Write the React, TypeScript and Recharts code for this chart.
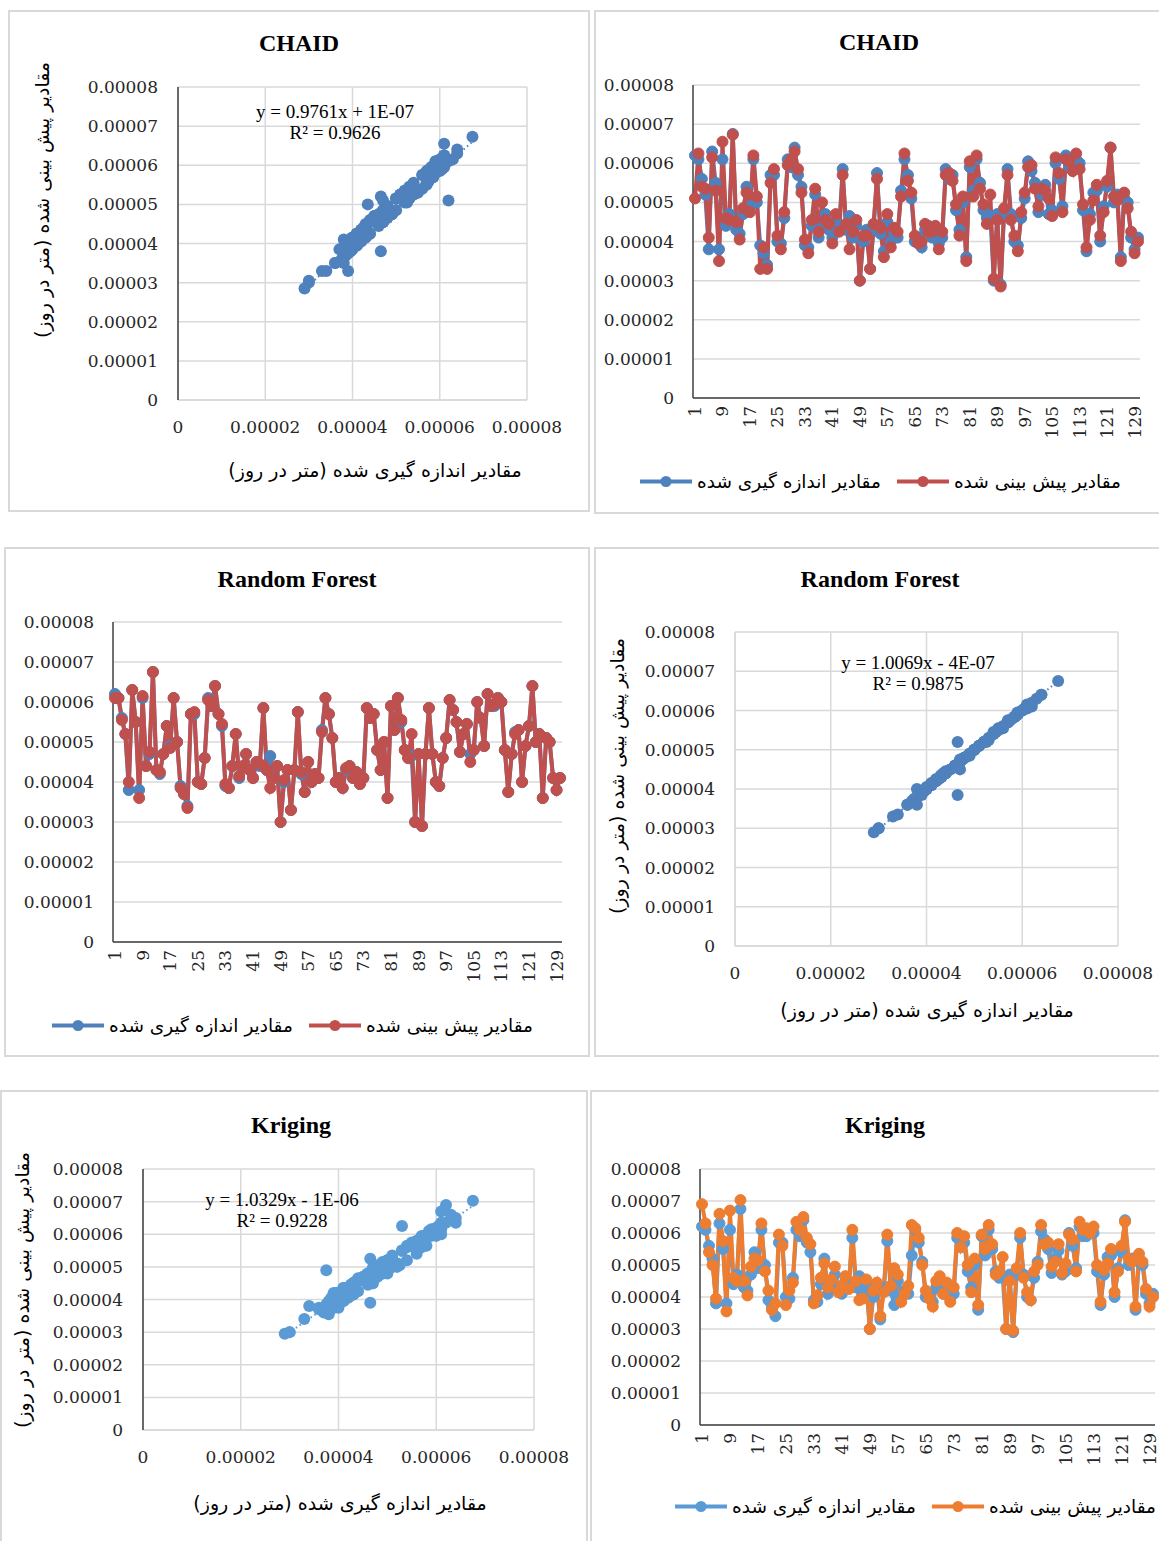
import React from "react";
import { CartesianGrid, Line, LineChart, Scatter, ScatterChart, XAxis, YAxis } from "recharts";

// Rates are kept in units of 1e-6 m/day (10 here = 0.00001 on the axes).
const days = Array.from({ length: 130 }, (_, i) => i + 1);

const measured = [
  62, 61, 56, 52, 38, 63, 55, 38, 61, 44,
  47, 67.5, 43, 42, 47, 54, 49, 61, 50, 39,
  37, 34, 57, 57, 40, 39.5, 46, 61, 59, 64,
  57, 54, 39, 38.5, 44, 52, 41, 43.5, 47, 43,
  41, 45, 44, 58.5, 43, 46.5, 41, 44, 30, 40,
  43, 33, 43, 57.5, 42, 37.5, 45, 40, 42, 41,
  53, 61, 57, 51, 40, 41, 38.5, 43, 44, 41,
  42.5, 39.5, 41, 58.5, 56, 57, 48, 43, 50, 36,
  59, 53, 61, 55, 48, 46, 46.5, 30, 47, 29,
  47, 58.5, 47, 40, 39, 46, 51, 60.5, 58, 55,
  47.5, 52, 54.5, 47, 48, 60, 56, 49, 62, 59,
  59, 61, 60, 48, 37.5, 47, 52.5, 53, 40, 49,
  54, 64, 50, 52, 36, 51, 50, 41, 38, 41,
];

const chaid = [
  51, 62.5, 54, 53.5, 41, 61.5, 53, 35, 65.5, 46,
  45.5, 67.3, 45, 40.5, 48.5, 52.5, 47.5, 62, 51.5, 33,
  38.5, 33, 55, 58.5, 41.5, 38, 47.5, 59.5, 61, 63,
  58.5, 52.5, 40.5, 37, 45.5, 53.5, 42.5, 50, 45.5, 44.5,
  39.5, 47, 42.5, 57, 44.5, 38, 42.5, 45.5, 30, 41.5,
  41.5, 33, 44.5, 56, 43.5, 36, 47, 38.5, 43.5, 42.5,
  51.5, 62.5, 55.5, 52.5, 41.5, 39.5, 40, 44.5, 42.5, 42.5,
  44, 38, 42.5, 57, 57.5, 55.5, 49.5, 41.5, 51.5, 35,
  60.5, 51.5, 62, 53.5, 49.5, 44.5, 52, 30.5, 45.5, 28.5,
  48.5, 57, 45.5, 41.5, 37.5, 47.5, 52.5, 59, 59.5, 53.5,
  49, 53.5, 53, 51, 46.5, 61.5, 57.5, 47.5, 61, 60.5,
  58, 62.5, 58.5, 49.5, 38.5, 45.5, 50.5, 54.5, 41.5, 47.5,
  55.5, 64, 51.5, 50.5, 35, 52.5, 48.5, 42.5, 37, 40,
];

const randomForest = [
  61, 61, 55.5, 52, 40, 63, 55, 36, 61.5, 44,
  47.5, 67.5, 43, 42.5, 47, 54, 48.5, 61, 50, 38.5,
  37, 33.5, 57, 57.5, 40, 39.5, 46, 60.5, 59, 64,
  57, 54.5, 39.5, 38.5, 44, 52, 41.5, 44, 47, 43,
  41, 45, 44.5, 58.5, 43, 38.5, 41, 44, 30, 40.5,
  43, 33, 43, 57.5, 42.5, 37.5, 45, 40, 42, 41,
  52.5, 61, 57, 51, 40, 41, 38.5, 43.5, 44, 41,
  42.5, 39.5, 41, 58.5, 56, 57, 48, 43, 50, 36,
  59, 53, 61, 55.5, 48, 46, 52, 30, 47, 29,
  47, 58.5, 47, 40, 39, 46, 51, 60.5, 58, 55,
  47.5, 52, 54.5, 45, 48, 60, 56, 49, 62, 59,
  59.5, 61, 60, 48, 37.5, 47, 52, 53, 40, 49,
  54, 64, 50, 52, 36, 51, 50, 41, 38, 41,
];

const kriging = [
  69, 63, 54, 50, 39.5, 66, 57.5, 35.5, 67, 46,
  45, 70.3, 45, 40.5, 49.5, 52, 51.5, 63, 48, 42,
  36, 38, 59.5, 56, 37.5, 42, 44.5, 63.5, 61, 65,
  58.5, 56.5, 38, 40.5, 46, 50.5, 43, 45.5, 49.5, 41.5,
  43.5, 46.5, 42.5, 61, 45, 39, 39.5, 45.5, 30, 42,
  44.5, 34, 41.5, 59.5, 43.5, 49, 47, 38.5, 41, 43.5,
  62.5, 61.5, 58.5, 50, 42, 39.5, 37, 45, 46.5, 41,
  44.5, 38.5, 43, 60, 55.5, 59, 50, 41.5, 52, 37.5,
  59.5, 55, 62.5, 56.5, 47, 48, 52.5, 30, 45, 29.5,
  49, 60, 46, 41.5, 39, 48, 50, 62.5, 56.5, 57,
  49.5, 51, 56.5, 47.5, 50.5, 59.5, 58, 48, 63.5, 61,
  61.5, 60, 62, 50, 38.5, 48.5, 50.5, 55, 41.5, 48,
  56, 63.5, 52, 51, 37, 53.5, 51, 42.5, 37, 40,
];

const valueTicks = [0, 10, 20, 30, 40, 50, 60, 70, 80];
const scatterXTicks = [0, 20, 40, 60, 80];

// Trendline fits printed on the scatter panels
const chaidFit = { slope: 0.9761, intercept: 0.1, eq: "y = 0.9761x + 1E-07", r2: "R² = 0.9626" };
const rfFit = { slope: 1.0069, intercept: -0.4, eq: "y = 1.0069x - 4E-07", r2: "R² = 0.9875" };
const krigingFit = { slope: 1.0329, intercept: -1, eq: "y = 1.0329x - 1E-06", r2: "R² = 0.9228" };

const measuredLabel = "مقادیر اندازه گیری شده";
const predictedLabel = "مقادیر پیش بینی شده";
const yTitle = "مقادیر پیش بینی شده (متر در روز)";
const xTitle = "مقادیر اندازه گیری شده (متر در روز)";

const TICK_FONT = "'DejaVu Serif', serif";
const SERIF = "'Liberation Serif', 'Times New Roman', serif";
const FA_FONT = "'DejaVu Sans', sans-serif";
const GRID = "#d9d9d9";
const AXIS = "#404040";
const INK = "#262626";

const fmt = (v: number) => (v === 0 ? "0" : (v / 1e6).toFixed(5));

type Box = { left: number; top: number; width: number; height: number };

/* ── tick renderers ─────────────────────────────────────────── */
function YTick(p: any) {
  return (
    <text x={p.x} y={p.y} dy={6} textAnchor="end" fontFamily={TICK_FONT} fontSize={17} fill={INK}>
      {fmt(p.payload.value)}
    </text>
  );
}

function XTickFlat(p: any) {
  return (
    <text x={p.x} y={p.y} dy={12} textAnchor="middle" fontFamily={TICK_FONT} fontSize={17} fill={INK}>
      {fmt(p.payload.value)}
    </text>
  );
}

function XTickRot(p: any) {
  return (
    <text
      x={p.x}
      y={p.y}
      dy={6}
      textAnchor="end"
      transform={`rotate(-90 ${p.x} ${p.y})`}
      fontFamily={TICK_FONT}
      fontSize={17}
      fill={INK}
    >
      {p.payload.value}
    </text>
  );
}

/* ── bits of chrome ─────────────────────────────────────────── */
function Panel({ left, top, width, height }: Box) {
  return (
    <div
      style={{ position: "absolute", left, top, width, height, border: `2px solid ${GRID}`, boxSizing: "border-box" }}
    />
  );
}

function Title({ x, y, text }: { x: number; y: number; text: string }) {
  return (
    <div
      style={{
        position: "absolute",
        left: x,
        top: y,
        transform: "translate(-50%, -50%)",
        fontFamily: SERIF,
        fontWeight: 700,
        fontSize: 24,
        whiteSpace: "nowrap",
        color: "#000",
      }}
    >
      {text}
    </div>
  );
}

function FaText({ x, y, text, rotate = false }: { x: number; y: number; text: string; rotate?: boolean }) {
  return (
    <div
      dir="rtl"
      style={{
        position: "absolute",
        left: x,
        top: y,
        transform: `translate(-50%, -50%)${rotate ? " rotate(-90deg)" : ""}`,
        fontFamily: FA_FONT,
        fontSize: 19,
        whiteSpace: "nowrap",
        color: "#000",
      }}
    >
      {text}
    </div>
  );
}

function Equation({ x, y, fit }: { x: number; y: number; fit: typeof chaidFit }) {
  const s: React.CSSProperties = {
    position: "absolute",
    left: x,
    transform: "translate(-50%, -50%)",
    fontFamily: SERIF,
    fontSize: 19,
    whiteSpace: "nowrap",
    color: "#000",
  };
  return (
    <>
      <div style={{ ...s, top: y }}>{fit.eq}</div>
      <div style={{ ...s, top: y + 21 }}>{fit.r2}</div>
    </>
  );
}

function LegendIcon({ color }: { color: string }) {
  return (
    <svg width={52} height={14} style={{ display: "block" }}>
      <line x1={0} y1={7} x2={52} y2={7} stroke={color} strokeWidth={4} />
      <circle cx={26} cy={7} r={5.5} fill={color} />
    </svg>
  );
}

function Legend({ x, y, measColor, predColor }: { x: number; y: number; measColor: string; predColor: string }) {
  const label: React.CSSProperties = { fontFamily: FA_FONT, fontSize: 18.5, marginLeft: 5, color: "#000" };
  return (
    <div
      style={{
        position: "absolute",
        left: x,
        top: y,
        transform: "translateY(-50%)",
        display: "flex",
        alignItems: "center",
        whiteSpace: "nowrap",
      }}
    >
      <LegendIcon color={measColor} />
      <span dir="rtl" style={label}>{measuredLabel}</span>
      <span style={{ width: 16 }} />
      <LegendIcon color={predColor} />
      <span dir="rtl" style={label}>{predictedLabel}</span>
    </div>
  );
}

/* ── time-series panel ─────────────────────────────────────── */
function SeriesChart({
  box,
  yAxisWidth,
  xAxisHeight,
  marginTop,
  marginRight,
  pred,
  measColor,
  predColor,
}: {
  box: Box;
  yAxisWidth: number;
  xAxisHeight: number;
  marginTop: number;
  marginRight: number;
  pred: number[];
  measColor: string;
  predColor: string;
}) {
  const rows = days.map((d, i) => ({ day: d, measured: measured[i], pred: pred[i] }));
  return (
    <div style={{ position: "absolute", left: box.left, top: box.top }}>
      <LineChart
        width={box.width}
        height={box.height}
        data={rows}
        margin={{ top: marginTop, right: marginRight, left: 0, bottom: 0 }}
      >
        <CartesianGrid vertical={false} stroke={GRID} strokeWidth={1.5} />
        <XAxis
          dataKey="day"
          interval={7}
          height={xAxisHeight}
          padding={{ left: 2, right: 2 }}
          axisLine={{ stroke: AXIS, strokeWidth: 1.5 }}
          tickLine={false}
          tickSize={0}
          tickMargin={8}
          tick={(p: any) => <XTickRot {...p} />}
        />
        <YAxis
          domain={[0, 80]}
          ticks={valueTicks}
          width={yAxisWidth}
          axisLine={{ stroke: AXIS, strokeWidth: 1.5 }}
          tickLine={false}
          tickSize={0}
          tickMargin={19}
          tick={(p: any) => <YTick {...p} />}
        />
        <Line
          dataKey="measured"
          stroke={measColor}
          strokeWidth={4}
          dot={{ r: 5.5, fill: measColor, stroke: measColor, strokeWidth: 1 }}
          isAnimationActive={false}
        />
        <Line
          dataKey="pred"
          stroke={predColor}
          strokeWidth={4}
          dot={{ r: 5.5, fill: predColor, stroke: predColor, strokeWidth: 1 }}
          isAnimationActive={false}
        />
      </LineChart>
    </div>
  );
}

/* ── measured vs predicted scatter panel ───────────────────── */
function FitChart({
  box,
  yAxisWidth,
  xAxisHeight,
  marginTop,
  marginRight,
  pred,
  color,
  fit,
  leftAxisDark,
}: {
  box: Box;
  yAxisWidth: number;
  xAxisHeight: number;
  marginTop: number;
  marginRight: number;
  pred: number[];
  color: string;
  fit: typeof chaidFit;
  leftAxisDark: boolean;
}) {
  const points = measured.map((m, i) => ({ x: m, y: pred[i] }));
  const lo = Math.min(...measured);
  const hi = Math.max(...measured);
  const trend = [
    { x: lo, y: fit.slope * lo + fit.intercept },
    { x: hi, y: fit.slope * hi + fit.intercept },
  ];
  return (
    <div style={{ position: "absolute", left: box.left, top: box.top }}>
      <ScatterChart
        width={box.width}
        height={box.height}
        margin={{ top: marginTop, right: marginRight, left: 0, bottom: 0 }}
      >
        <CartesianGrid stroke={GRID} strokeWidth={1.5} />
        <XAxis
          type="number"
          dataKey="x"
          domain={[0, 80]}
          ticks={scatterXTicks}
          height={xAxisHeight}
          axisLine={{ stroke: GRID, strokeWidth: 1.5 }}
          tickLine={false}
          tickSize={0}
          tickMargin={21}
          tick={(p: any) => <XTickFlat {...p} />}
        />
        <YAxis
          type="number"
          dataKey="y"
          domain={[0, 80]}
          ticks={valueTicks}
          width={yAxisWidth}
          axisLine={{ stroke: leftAxisDark ? AXIS : GRID, strokeWidth: 1.5 }}
          tickLine={false}
          tickSize={0}
          tickMargin={20}
          tick={(p: any) => <YTick {...p} />}
        />
        <Scatter
          data={points}
          fill={color}
          shape={(p: any) => <circle cx={p.cx} cy={p.cy} r={6} fill={color} />}
          isAnimationActive={false}
        />
        <Scatter
          data={trend}
          line={{ stroke: color, strokeWidth: 2, strokeDasharray: "1.5 3" }}
          shape={() => <g />}
          isAnimationActive={false}
        />
      </ScatterChart>
    </div>
  );
}

export default function App() {
  const blue = "#4f81bd";
  const red = "#c0504d";
  const kBlue = "#5b9bd5";
  const orange = "#ed7d31";
  return (
    <div style={{ position: "absolute", left: 0, top: 0, width: 1159, height: 1541, overflow: "hidden", background: "#fff" }}>
      {/* row 1 — CHAID */}
      <Panel left={8} top={10} width={582} height={502} />
      <Panel left={594} top={10} width={570} height={504} />
      <Title x={299} y={43} text="CHAID" />
      <Title x={879} y={42} text="CHAID" />
      <FitChart
        box={{ left: 8, top: 60, width: 560, height: 440 }}
        yAxisWidth={170}
        xAxisHeight={100}
        marginTop={27}
        marginRight={41}
        pred={chaid}
        color={blue}
        fit={chaidFit}
        leftAxisDark
      />
      <Equation x={335} y={112} fit={chaidFit} />
      <FaText x={42} y={200} text={yTitle} rotate />
      <FaText x={375} y={470} text={xTitle} />
      <SeriesChart
        box={{ left: 594, top: 60, width: 560, height: 400 }}
        yAxisWidth={99}
        xAxisHeight={62}
        marginTop={25}
        marginRight={14}
        pred={chaid}
        measColor={blue}
        predColor={red}
      />
      <Legend x={640} y={481} measColor={blue} predColor={red} />

      {/* row 2 — Random Forest */}
      <Panel left={4} top={547} width={586} height={510} />
      <Panel left={594} top={547} width={570} height={510} />
      <Title x={297} y={579} text="Random Forest" />
      <Title x={880} y={579} text="Random Forest" />
      <SeriesChart
        box={{ left: 4, top: 600, width: 570, height: 400 }}
        yAxisWidth={109}
        xAxisHeight={58}
        marginTop={22}
        marginRight={12}
        pred={randomForest}
        measColor={blue}
        predColor={red}
      />
      <Legend x={52} y={1025} measColor={blue} predColor={red} />
      <FitChart
        box={{ left: 594, top: 600, width: 565, height: 406 }}
        yAxisWidth={141}
        xAxisHeight={60}
        marginTop={32}
        marginRight={41}
        pred={randomForest}
        color={blue}
        fit={rfFit}
        leftAxisDark={false}
      />
      <Equation x={918} y={663} fit={rfFit} />
      <FaText x={617} y={776} text={yTitle} rotate />
      <FaText x={927} y={1010} text={xTitle} />

      {/* row 3 — Kriging */}
      <Panel left={0} top={1090} width={588} height={460} />
      <Panel left={590} top={1090} width={575} height={460} />
      <Title x={291} y={1125} text="Kriging" />
      <Title x={885} y={1125} text="Kriging" />
      <FitChart
        box={{ left: 0, top: 1140, width: 574, height: 350 }}
        yAxisWidth={143}
        xAxisHeight={60}
        marginTop={29}
        marginRight={40}
        pred={kriging}
        color={kBlue}
        fit={krigingFit}
        leftAxisDark
      />
      <Equation x={282} y={1200} fit={krigingFit} />
      <FaText x={22} y={1290} text={yTitle} rotate />
      <FaText x={340} y={1503} text={xTitle} />
      <SeriesChart
        box={{ left: 590, top: 1150, width: 569, height: 330 }}
        yAxisWidth={110}
        xAxisHeight={55}
        marginTop={19}
        marginRight={4}
        pred={kriging}
        measColor={kBlue}
        predColor={orange}
      />
      <Legend x={675} y={1506} measColor={kBlue} predColor={orange} />
    </div>
  );
}
